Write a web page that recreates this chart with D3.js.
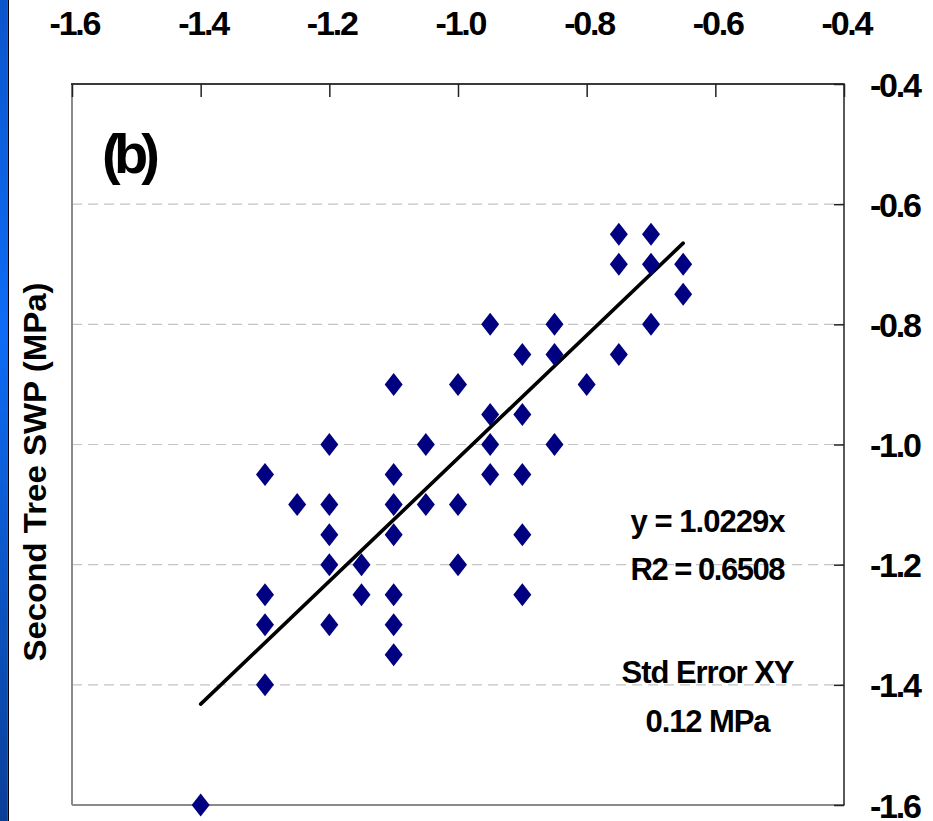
<!DOCTYPE html>
<html>
<head>
<meta charset="utf-8">
<script src="https://cdn.jsdelivr.net/npm/d3@7"></script>
<style>
  html, body { margin: 0; padding: 0; background: #fff; }
  svg { display: block; }
  text { font-family: "Liberation Sans", Arial, sans-serif; font-weight: bold; fill: #000; }
</style>
</head>
<body>
<svg id="chart" width="933" height="821"></svg>
<script>
// First-tree SWP (x) vs second-tree SWP (y), MPa
const firstTree = [
  -1.4,
  -1.3, -1.3, -1.3, -1.3,
  -1.25,
  -1.2, -1.2, -1.2, -1.2, -1.2,
  -1.15, -1.15,
  -1.1, -1.1, -1.1, -1.1, -1.1, -1.1, -1.1,
  -1.05, -1.05,
  -1.0, -1.0, -1.0,
  -0.95, -0.95, -0.95, -0.95,
  -0.9, -0.9, -0.9, -0.9, -0.9,
  -0.85, -0.85, -0.85,
  -0.8,
  -0.75, -0.75, -0.75,
  -0.7, -0.7, -0.7,
  -0.65, -0.65
];
const secondTree = [
  -1.6,
  -1.05, -1.25, -1.3, -1.4,
  -1.1,
  -1.0, -1.1, -1.15, -1.2, -1.3,
  -1.2, -1.25,
  -0.9, -1.05, -1.1, -1.15, -1.25, -1.3, -1.35,
  -1.0, -1.1,
  -0.9, -1.1, -1.2,
  -0.8, -0.95, -1.0, -1.05,
  -0.85, -0.95, -1.05, -1.15, -1.25,
  -0.8, -0.85, -1.0,
  -0.9,
  -0.65, -0.7, -0.85,
  -0.65, -0.7, -0.8,
  -0.7, -0.75
];

// Fitted line through the origin: y = slope * x, drawn over the data range
const slope = 1.0229;
const fitRange = [-1.4, -0.65];

const xTicks = [-1.6, -1.4, -1.2, -1.0, -0.8, -0.6, -0.4];
const xTickLabels = ["-1.6", "-1.4", "-1.2", "-1.0", "-0.8", "-0.6", "-0.4"];
const yTicks = [-0.4, -0.6, -0.8, -1.0, -1.2, -1.4, -1.6];
const yTickLabels = ["-0.4", "-0.6", "-0.8", "-1.0", "-1.2", "-1.4", "-1.6"];
const gridValues = [-0.6, -0.8, -1.0, -1.2, -1.4];

const yTitle = "Second Tree SWP (MPa)";
const panelLabel = "(b)";
const statLines = ["y = 1.0229x", "R2 = 0.6508", "Std Error XY", "0.12 MPa"];

const svg = d3.select("#chart");

// Blue slide band on the left edge
const defs = svg.append("defs");
const grad = defs.append("linearGradient").attr("id", "band")
  .attr("x1", 0).attr("y1", 0).attr("x2", 0).attr("y2", 1);
grad.append("stop").attr("offset", "0%").attr("stop-color", "#0b55cc");
grad.append("stop").attr("offset", "40%").attr("stop-color", "#0d6cf6");
grad.append("stop").attr("offset", "100%").attr("stop-color", "#0a3f98");
svg.append("rect").attr("x", 0).attr("y", 0).attr("width", 7.6).attr("height", 821)
  .attr("fill", "url(#band)");
svg.append("rect").attr("x", 7.6).attr("y", 0).attr("width", 1.4).attr("height", 821)
  .attr("fill", "#000");

const plotL = 72, plotR = 844, plotT = 84, plotB = 805;

const x = d3.scaleLinear().domain([-1.6, -0.4]).range([plotL, plotR]);
const y = d3.scaleLinear().domain([-1.6, -0.4]).range([plotB, plotT]);

// Dashed horizontal gridlines
svg.append("g").selectAll("line").data(gridValues).join("line")
  .attr("x1", plotL).attr("x2", plotR)
  .attr("y1", d => y(d)).attr("y2", d => y(d))
  .attr("stroke", "#c4c4c4").attr("stroke-width", 1.2)
  .attr("stroke-dasharray", "10,6");

// Frame: light grey on left/bottom, dark on top/right
svg.append("line").attr("x1", plotL).attr("x2", plotL).attr("y1", plotT).attr("y2", plotB)
  .attr("stroke", "#8a8a8a").attr("stroke-width", 2);
svg.append("line").attr("x1", plotL).attr("x2", plotR + 0.75).attr("y1", plotB).attr("y2", plotB)
  .attr("stroke", "#8a8a8a").attr("stroke-width", 2);
svg.append("line").attr("x1", plotL - 1).attr("x2", plotR + 0.75).attr("y1", plotT).attr("y2", plotT)
  .attr("stroke", "#3a3a3a").attr("stroke-width", 2);
svg.append("line").attr("x1", plotR).attr("x2", plotR).attr("y1", plotT).attr("y2", plotB)
  .attr("stroke", "#222").attr("stroke-width", 1.5);

// Top axis
const xAxis = d3.axisTop(x)
  .tickValues(xTicks)
  .tickFormat((d, i) => xTickLabels[i])
  .tickSizeInner(-13).tickSizeOuter(0).tickPadding(49);
const gx = svg.append("g").attr("transform", `translate(0,${plotT})`).call(xAxis);
gx.select(".domain").remove();
gx.selectAll(".tick line").attr("stroke", "#222").attr("stroke-width", 1.5);
gx.selectAll(".tick text")
  .attr("font-size", 34).attr("font-family", "Liberation Sans, Arial, sans-serif")
  .attr("font-weight", "bold").attr("fill", "#000")
  .attr("textLength", 52).attr("lengthAdjust", "spacing")
  .attr("dx", 3);

// Right axis
const yAxis = d3.axisRight(y)
  .tickValues(yTicks)
  .tickFormat((d, i) => yTickLabels[i])
  .tickSizeInner(-10).tickSizeOuter(0).tickPadding(26);
const gy = svg.append("g").attr("transform", `translate(${plotR},0)`).call(yAxis);
gy.select(".domain").remove();
gy.selectAll(".tick line").attr("stroke", "#222").attr("stroke-width", 1.5);
gy.selectAll(".tick text")
  .attr("font-size", 34).attr("font-family", "Liberation Sans, Arial, sans-serif")
  .attr("font-weight", "bold").attr("fill", "#000")
  .attr("textLength", 52).attr("lengthAdjust", "spacing")
  .attr("dy", 12);

// Y axis title
svg.append("text")
  .attr("transform", "translate(46,472) rotate(-90)")
  .attr("text-anchor", "middle")
  .attr("font-size", 32)
  .attr("textLength", 379).attr("lengthAdjust", "spacingAndGlyphs")
  .text(yTitle);

// Panel label
svg.append("text")
  .attr("x", 102).attr("y", 173)
  .attr("font-size", 56)
  .attr("textLength", 58).attr("lengthAdjust", "spacing")
  .text(panelLabel);

// Regression statistics
const statPos = [
  { by: 532, w: 155 },
  { by: 580, w: 155 },
  { by: 683, w: 173 },
  { by: 732, w: 125 }
];
svg.append("g").selectAll("text").data(statLines).join("text")
  .attr("x", 708).attr("y", (d, i) => statPos[i].by)
  .attr("text-anchor", "middle")
  .attr("font-size", 31)
  .attr("textLength", (d, i) => statPos[i].w).attr("lengthAdjust", "spacing")
  .text(d => d);

// Fitted line
const line = d3.line().x(d => x(d)).y(d => y(slope * d));
svg.append("path").datum(fitRange)
  .attr("d", line)
  .attr("fill", "none").attr("stroke", "#000").attr("stroke-width", 3.6)
  .attr("stroke-linecap", "round");

// Diamond markers
const diamond = "M0,-11.5L9,0L0,11.5L-9,0Z";
svg.append("g").selectAll("path").data(d3.range(firstTree.length)).join("path")
  .attr("transform", i => `translate(${x(firstTree[i])},${y(secondTree[i])})`)
  .attr("d", diamond)
  .attr("fill", "#000080");
</script>
</body>
</html>
